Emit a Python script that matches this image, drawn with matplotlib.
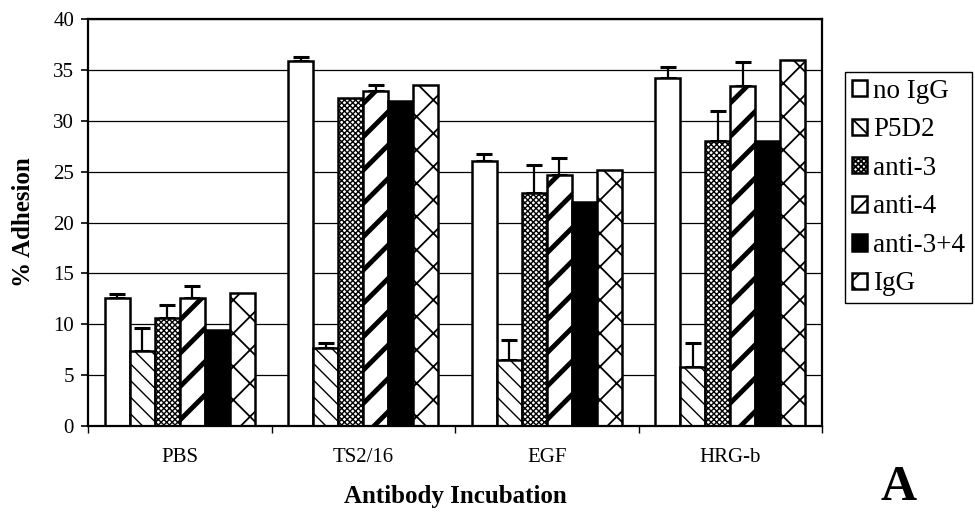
import matplotlib
matplotlib.use("Agg")
import matplotlib.pyplot as plt
import numpy as np

# Adhesion data (% of cells adhered), four stimulation conditions
groups = ["PBS", "TS2/16", "EGF", "HRG-b"]
series = ["no IgG", "P5D2", "anti-3", "anti-4", "anti-3+4", "IgG"]

no_igg = [12.6, 35.9, 26.0, 34.2]
no_igg_err = [0.4, 0.4, 0.7, 1.1]
p5d2 = [7.4, 7.7, 6.5, 5.8]
p5d2_err = [2.2, 0.5, 2.0, 2.4]
anti3 = [10.6, 32.2, 22.9, 28.0]
anti3_err = [1.3, 0.0, 2.8, 3.0]
anti4 = [12.6, 32.9, 24.7, 33.4]
anti4_err = [1.2, 0.6, 1.6, 2.4]
anti34 = [9.4, 31.9, 22.0, 28.0]
anti34_err = [0.0, 0.0, 0.0, 0.0]
igg = [13.1, 33.5, 25.2, 36.0]
igg_err = [0.0, 0.0, 0.0, 0.0]

yticks = [0, 5, 10, 15, 20, 25, 30, 35, 40]

values = [no_igg, p5d2, anti3, anti4, anti34, igg]
errors = [no_igg_err, p5d2_err, anti3_err, anti4_err, anti34_err, igg_err]

# fill colour, hatch pattern, hatch line width for each series
styles = [
    ("white", "", 1.0),
    ("white", "\\\\", 1.0),
    ("white", "xxxxxx", 1.0),
    ("white", "/", 3.5),
    ("black", "", 1.0),
    ("white", "x", 1.3),
]

plt.rcParams["font.family"] = ["Liberation Serif", "DejaVu Serif"]

fig = plt.figure(figsize=(9.75, 5.19), dpi=100)
ax = fig.add_axes([88 / 975, 1 - 426 / 519, (822 - 88) / 975, (426 - 19) / 519])

x = np.arange(len(groups))
width = 25 / 184
handles = []
for i, (name, vals, errs, (fc, hatch, hlw)) in enumerate(zip(series, values, errors, styles)):
    pos = x + (i - 2.5) * width
    plt.rcParams["hatch.linewidth"] = hlw
    bars = ax.bar(pos, vals, width, color=fc, edgecolor="black", linewidth=1.8,
                  hatch=hatch, label=name, zorder=2)
    for b in bars:
        if hasattr(b, "set_hatch_linewidth"):
            b.set_hatch_linewidth(hlw)
    handles.append(bars)
    errs = np.asarray(errs)
    mask = errs > 0
    if mask.any():
        ax.errorbar(pos[mask], np.asarray(vals)[mask],
                    yerr=[np.zeros(mask.sum()), errs[mask]],
                    fmt="none", ecolor="black", elinewidth=1.6,
                    capsize=5.5, capthick=2.2, zorder=1)

ax.set_xlim(-0.5, len(groups) - 0.5)
ax.set_ylim(0, 40)
ax.set_yticks(yticks)
ax.set_xticks(x)
ax.set_xticklabels(groups)
ax.set_xticks(np.arange(-0.5, len(groups), 1.0), minor=True)

ax.tick_params(axis="y", direction="out", length=5, width=1.2, pad=5, labelsize=15)
ax.tick_params(axis="x", which="major", length=0, pad=16, labelsize=15)
ax.tick_params(axis="x", which="minor", direction="out", length=5, width=1.0)

ax.yaxis.grid(True, color="black", linewidth=0.9)
ax.set_axisbelow(True)
for s in ax.spines.values():
    s.set_linewidth(1.6)

fig.text(24 / 975, 1 - 222 / 519, "% Adhesion", rotation=90, ha="center",
         va="center", fontsize=18, fontweight="bold")
fig.text(455 / 975, 1 - 497 / 519, "Antibody Incubation", ha="center",
         va="center", fontsize=18, fontweight="bold")
fig.text(899 / 975, 1 - 500 / 519, "A", ha="center", va="baseline",
         fontsize=36, fontweight="bold")

leg = fig.legend(handles=handles, labels=series, loc="upper left",
                 bbox_to_anchor=(845 / 975, 1 - 72 / 519),
                 fontsize=19.5, frameon=True, fancybox=False, framealpha=1,
                 edgecolor="black", handlelength=0.55, handleheight=0.55,
                 handletextpad=0.25, labelspacing=0.5, borderpad=0.25,
                 borderaxespad=0)
leg.get_frame().set_linewidth(1.0)

fig.savefig("out.png", dpi=100)
